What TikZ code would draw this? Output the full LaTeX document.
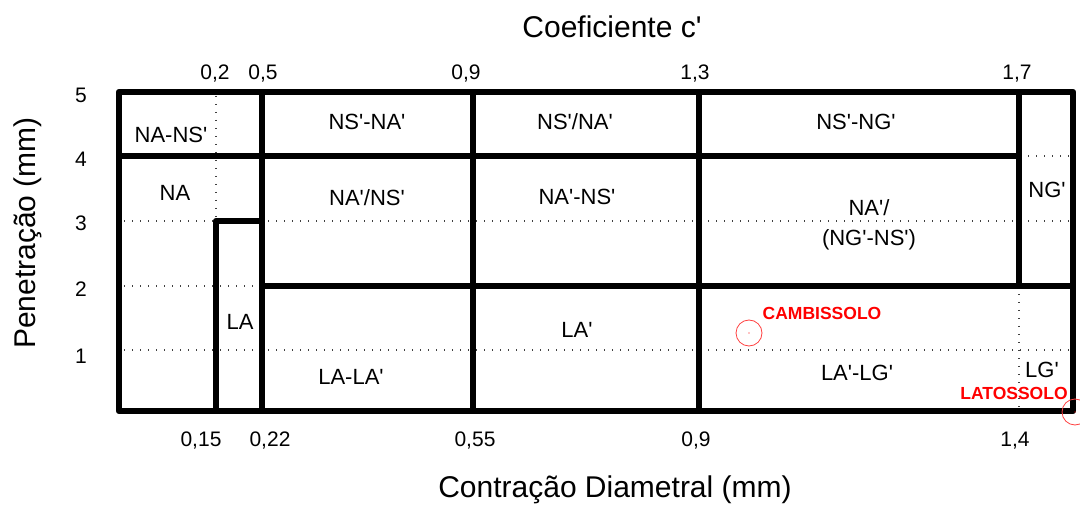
\documentclass[tikz,border=0pt]{standalone}
\usepackage{fontspec}
\newfontfamily\arial{Liberation Sans}
\usetikzlibrary{positioning}

\begin{document}
\begin{tikzpicture}[x=1pt,y=-1pt,
	wall/.style={line width=6.5pt,line cap=rect,line join=round},
	grid/.style={black!75,line width=1.3pt,dash pattern=on 1.3pt off 6.7pt},
	region/.style={font=\arial\fontsize{22}{30}\selectfont,align=center,inner sep=0pt},
	tick/.style={font=\arial\fontsize{21}{24}\selectfont,inner sep=0pt},
	axis/.style={font=\arial\fontsize{30}{36}\selectfont,inner sep=0pt},
	soil/.style={text=red,font=\arial\fontsize{17.5}{20}\selectfont\bfseries,inner sep=0pt},
	spot/.style={draw=red!75,line width=0.8pt}]
	
	\useasboundingbox (0,0) rectangle (1080,513);
	
	% dotted grid
	\foreach \y in {156,221,286,350}
		\draw[grid] (124,\y) -- (1070,\y);
	\draw[grid] (216,96) -- (216,221);
	\draw[grid] (1019,286) -- (1019,408);
	
	% walls
	\draw[wall] (119,92) rectangle (1073,411);
	\draw[wall] (119,156) -- (1019,156);
	\draw[wall] (262,286) -- (1073,286);
	\draw[wall] (216,411) -- (216,221) -- (262,221);
	\draw[wall] (262,92) -- (262,411);
	\draw[wall] (473,92) -- (473,411);
	\draw[wall] (699,92) -- (699,411);
	\draw[wall] (1019,92) -- (1019,286);
	
	% regions
	\node[region] (nans) at (171,135) {NA-NS'};
	\node[region] (nsna) at (367,122) {NS'-NA'};
	\node[region] (nsnab) at (575,122) {NS'/NA'};
	\node[region] (nsng) at (856,122) {NS'-NG'};
	\node[region] (na) at (175,193) {NA};
	\node[region] (nans2) at (367,198) {NA'/NS'};
	\node[region] (nans3) at (577,197) {NA'-NS'};
	\node[region] (nangns) at (869,225) {NA'/\\(NG'-NS')};
	\node[region] (ng) at (1047,190) {NG'};
	\node[region] (la) at (240,322) {LA};
	\node[region] (la2) at (577,330) {LA'};
	\node[region] (lala) at (351,377) {LA-LA'};
	\node[region] (lalg) at (857,373) {LA'-LG'};
	\node[region] (lg) at (1042,370) {LG'};
	
	% soils
	\node[soil] (camb) at (822,313) {CAMBISSOLO};
	\node[soil] (lato) at (1014,393) {LATOSSOLO};
	\draw[spot] (749,333) circle (13);
	\fill[red] (749,333) circle (0.7);
	\draw[spot] (1075,412) circle (13);
	\fill[red] (1075,412) circle (0.7);
	
	% ticks
	\node[tick] (t02) at (215,74) {0,2};
	\node[tick] (t05) at (263,74) {0,5};
	\node[tick] (t09) at (466,74) {0,9};
	\node[tick] (t13) at (695,74) {1,3};
	\node[tick] (t17) at (1017,74) {1,7};
	\node[tick] (b015) at (201,441) {0,15};
	\node[tick] (b022) at (270,441) {0,22};
	\node[tick] (b055) at (475,441) {0,55};
	\node[tick] (b09) at (696,441) {0,9};
	\node[tick] (b14) at (1015,441) {1,4};
	\foreach \v/\y in {5/95,4/159,3/223,2/289,1/356}
		\node[tick] (y\v) at (81,\y) {\v};
	
	% axis titles
	\node[axis] (top) at (612,27) {Coeficiente c'};
	\node[axis] (bottom) at (615,490) {Contração Diametral (mm)};
	\node[axis,rotate=90] (left) at (28,233) {Penetração (mm)};
\end{tikzpicture}
\end{document}
